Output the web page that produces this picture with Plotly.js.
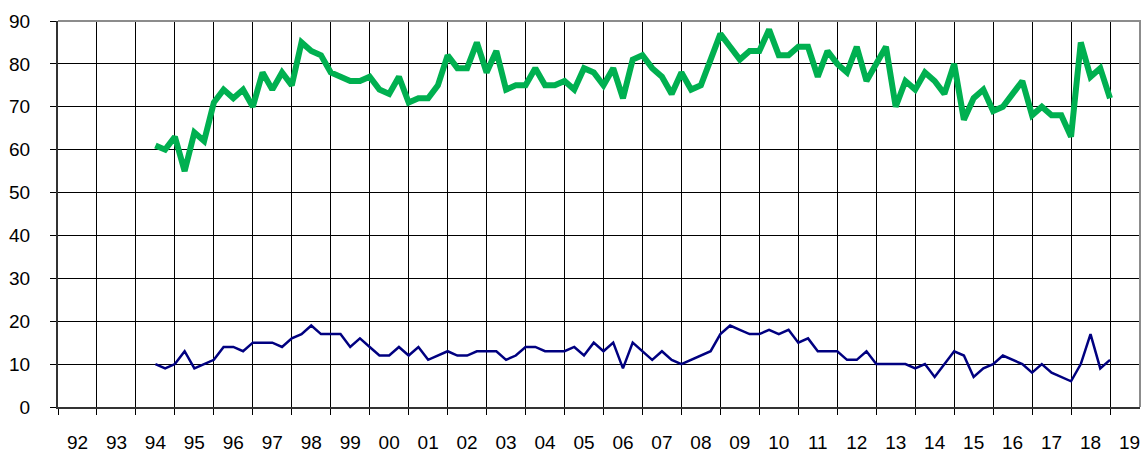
<!DOCTYPE html>
<html>
<head>
<meta charset="utf-8">
<script src="https://cdn.plot.ly/plotly-3.0.1.min.js"></script>
<style>
  html, body { margin: 0; padding: 0; background: #fff; }
  #chart { width: 1144px; height: 452px; }
</style>
</head>
<body>
<div id="chart"></div>
<script>
// Quarterly observations (year-quarter)
const quarters = [
  "1994-Q3","1994-Q4",
  "1995-Q1","1995-Q2","1995-Q3","1995-Q4",
  "1996-Q1","1996-Q2","1996-Q3","1996-Q4",
  "1997-Q1","1997-Q2","1997-Q3","1997-Q4",
  "1998-Q1","1998-Q2","1998-Q3","1998-Q4",
  "1999-Q1","1999-Q2","1999-Q3","1999-Q4",
  "2000-Q1","2000-Q2","2000-Q3","2000-Q4",
  "2001-Q1","2001-Q2","2001-Q3","2001-Q4",
  "2002-Q1","2002-Q2","2002-Q3","2002-Q4",
  "2003-Q1","2003-Q2","2003-Q3","2003-Q4",
  "2004-Q1","2004-Q2","2004-Q3","2004-Q4",
  "2005-Q1","2005-Q2","2005-Q3","2005-Q4",
  "2006-Q1","2006-Q2","2006-Q3","2006-Q4",
  "2007-Q1","2007-Q2","2007-Q3","2007-Q4",
  "2008-Q1","2008-Q2","2008-Q3","2008-Q4",
  "2009-Q1","2009-Q2","2009-Q3","2009-Q4",
  "2010-Q1","2010-Q2","2010-Q3","2010-Q4",
  "2011-Q1","2011-Q2","2011-Q3","2011-Q4",
  "2012-Q1","2012-Q2","2012-Q3","2012-Q4",
  "2013-Q1","2013-Q2","2013-Q3","2013-Q4",
  "2014-Q1","2014-Q2","2014-Q3","2014-Q4",
  "2015-Q1","2015-Q2","2015-Q3","2015-Q4",
  "2016-Q1","2016-Q2","2016-Q3","2016-Q4",
  "2017-Q1","2017-Q2","2017-Q3","2017-Q4",
  "2018-Q1","2018-Q2","2018-Q3","2018-Q4",
  "2019-Q1"
];

const greenSeries = [
  61, 60,
  63, 55, 64, 62,
  71, 74, 72, 74,
  70, 78, 74, 78,
  75, 85, 83, 82,
  78, 77, 76, 76,
  77, 74, 73, 77,
  71, 72, 72, 75,
  82, 79, 79, 85,
  78, 83, 74, 75,
  75, 79, 75, 75,
  76, 74, 79, 78,
  75, 79, 72, 81,
  82, 79, 77, 73,
  78, 74, 75, 81,
  87, 84, 81, 83,
  83, 88, 82, 82,
  84, 84, 77, 83,
  80, 78, 84, 76,
  80, 84, 70, 76,
  74, 78, 76, 73,
  80, 67, 72, 74,
  69, 70, 73, 76,
  68, 70, 68, 68,
  63, 85, 77, 79,
  72
];

const blueSeries = [
  10, 9,
  10, 13, 9, 10,
  11, 14, 14, 13,
  15, 15, 15, 14,
  16, 17, 19, 17,
  17, 17, 14, 16,
  14, 12, 12, 14,
  12, 14, 11, 12,
  13, 12, 12, 13,
  13, 13, 11, 12,
  14, 14, 13, 13,
  13, 14, 12, 15,
  13, 15, 9, 15,
  13, 11, 13, 11,
  10, 11, 12, 13,
  17, 19, 18, 17,
  17, 18, 17, 18,
  15, 16, 13, 13,
  13, 11, 11, 13,
  10, 10, 10, 10,
  9, 10, 7, 10,
  13, 12, 7, 9,
  10, 12, 11, 10,
  8, 10, 8, 7,
  6, 10, 17, 9,
  11
];

const yearLabels = ["92","93","94","95","96","97","98","99","00","01","02","03","04","05",
                    "06","07","08","09","10","11","12","13","14","15","16","17","18","19"];
const firstYear = 1992;
const yTicks = [0, 10, 20, 30, 40, 50, 60, 70, 80, 90];

// quarter string -> decimal year position (Q1 at the start of the year)
function qPos(q) {
  const [y, qq] = q.split("-Q");
  return Number(y) + (Number(qq) - 1) * 0.25;
}
const xPos = quarters.map(qPos);

const xRange = [firstYear, firstYear + 27.77];
const FONT = { family: "Liberation Sans, Arial, sans-serif", size: 19, color: "#000" };

const traces = [
  {
    x: xPos, y: greenSeries, type: "scatter", mode: "lines",
    line: { color: "#00B050", width: 6, shape: "linear" },
    xaxis: "x", yaxis: "y", hoverinfo: "skip"
  },
  {
    x: xPos, y: blueSeries, type: "scatter", mode: "lines",
    line: { color: "#000080", width: 2.5 },
    xaxis: "x2", yaxis: "y", hoverinfo: "skip"
  }
];

const layout = {
  width: 1144, height: 452,
  margin: { l: 58, r: 4, t: 21, b: 45 },
  paper_bgcolor: "#fff", plot_bgcolor: "#fff",
  showlegend: false,
  font: FONT,
  xaxis: {
    range: xRange, type: "linear",
    tickmode: "linear", tick0: firstYear, dtick: 1,
    showticklabels: false,
    ticks: "outside", ticklen: 6, tickcolor: "#000", tickwidth: 1,
    showgrid: true, gridcolor: "#000", gridwidth: 1,
    showline: true, linecolor: "#333", linewidth: 2,
    zeroline: false, fixedrange: true
  },
  xaxis2: {
    overlaying: "x", matches: "x", anchor: "y", side: "bottom",
    range: xRange, type: "linear",
    tickmode: "array",
    tickvals: yearLabels.map((_, i) => firstYear + i + 0.5),
    ticktext: yearLabels,
    ticks: "", showgrid: false, showline: false, zeroline: false,
    ticklabelstandoff: 22,
    tickfont: FONT, fixedrange: true
  },
  yaxis: {
    range: [0, 90], tickmode: "array", tickvals: yTicks,
    ticks: "outside", ticklen: 6, tickcolor: "#000",
    showgrid: true, gridcolor: "#000", gridwidth: 1,
    showline: true, linecolor: "#333", linewidth: 2,
    zeroline: false, tickfont: FONT,
    ticklabelstandoff: 16, fixedrange: true
  },
  shapes: [
    {
      type: "path", xref: "paper", yref: "paper",
      path: "M 0 1 L 1 1 L 1 0",
      line: { color: "#8c8c8c", width: 2 }, layer: "above"
    }
  ]
};

Plotly.newPlot("chart", traces, layout, { staticPlot: true, displayModeBar: false });
</script>
</body>
</html>
